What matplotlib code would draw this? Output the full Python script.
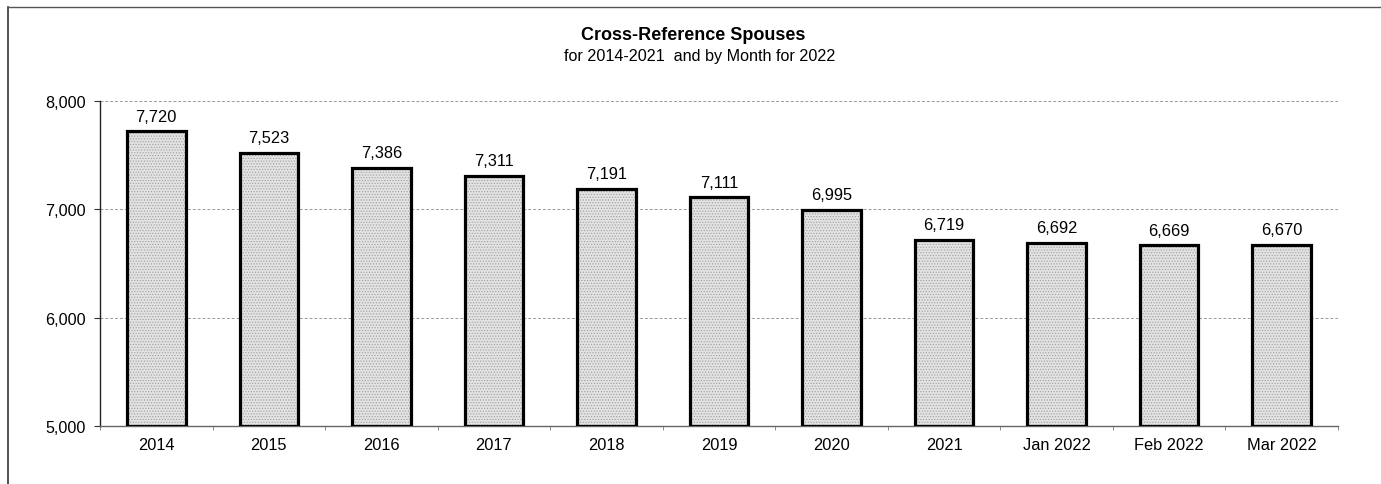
import matplotlib
matplotlib.use("Agg")
import matplotlib.pyplot as plt
from matplotlib.lines import Line2D
import numpy as np

categories = ["2014", "2015", "2016", "2017", "2018", "2019", "2020", "2021",
              "Jan 2022", "Feb 2022", "Mar 2022"]
values = [7720, 7523, 7386, 7311, 7191, 7111, 6995, 6719, 6692, 6669, 6670]
yticks = [5000, 6000, 7000, 8000]

plt.rcParams['font.family'] = ['Liberation Sans', 'DejaVu Sans']
plt.rcParams['hatch.linewidth'] = 0.5

fig = plt.figure(figsize=(13.81, 4.85), dpi=100)
W, H = 1381, 485
left, right, top, bottom = 100, 1338, 102, 427
ax = fig.add_axes([left / W, 1 - bottom / H, (right - left) / W, (bottom - top) / H])

x = np.arange(len(categories))
ax.bar(x, [v - 5000 for v in values], bottom=5000, width=0.52, color="#e2e2e2",
       edgecolor="#a0a0a0", hatch="......", linewidth=0, zorder=2)
ax.bar(x, [v - 5000 for v in values], bottom=5000, width=0.52, facecolor="none",
       edgecolor="black", linewidth=2.3, zorder=3)

for xi, v in zip(x, values):
    ax.text(xi, v + 70, f"{v:,}", ha="center", va="bottom", fontsize=11.8, zorder=4)

ax.set_xlim(-0.5, len(categories) - 0.5)
ax.set_ylim(5000, 8000)
ax.set_yticks(yticks)
ax.set_yticklabels([f"{t:,}" for t in yticks], fontsize=11.6)
ax.set_xticks(x)
ax.set_xticklabels(categories, fontsize=11.8)
ax.tick_params(axis="x", which="major", length=0, pad=8)
ax.set_xticks(np.arange(-0.5, len(categories), 1), minor=True)
ax.tick_params(axis="x", which="minor", length=3, color="#777777", direction="out")
ax.tick_params(axis="y", length=4, color="#333333", pad=6)

for t in [6000, 7000, 8000]:
    ax.axhline(t, color="#999999", linestyle=(0, (3, 2)), linewidth=0.7, zorder=1)

for s in ["top", "right"]:
    ax.spines[s].set_visible(False)
ax.spines["left"].set_color("#222222")
ax.spines["left"].set_linewidth(1.0)
ax.spines["bottom"].set_color("#666666")
ax.spines["bottom"].set_linewidth(1.0)

fig.text(693 / W, 1 - 36 / H, "Cross-Reference Spouses", ha="center", va="center",
         fontsize=13, fontweight="bold")
fig.text(700 / W, 1 - 56 / H, "for 2014-2021  and by Month for 2022", ha="center",
         va="center", fontsize=11.6)

fig.add_artist(Line2D([8 / W, 8 / W], [0, 1 - 8 / H], transform=fig.transFigure,
                      color="#333333", linewidth=1.2))
fig.add_artist(Line2D([8 / W, 1], [1 - 8 / H, 1 - 8 / H], transform=fig.transFigure,
                      color="#555555", linewidth=1.0))

fig.savefig("out.png", dpi=100)
